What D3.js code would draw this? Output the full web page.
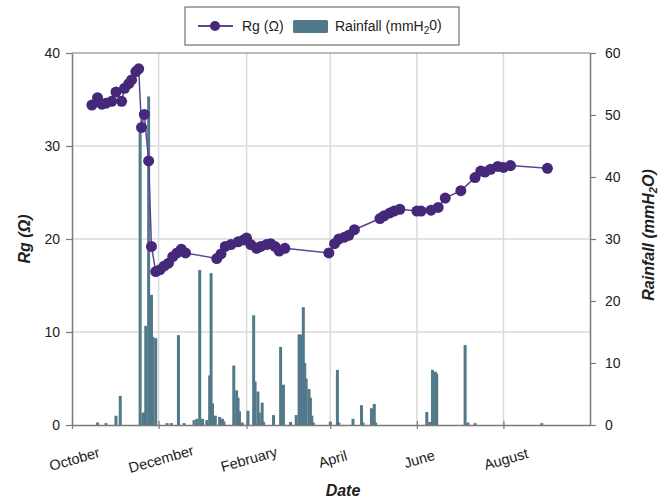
<!DOCTYPE html>
<html>
<head>
<meta charset="utf-8">
<script src="https://cdn.jsdelivr.net/npm/d3@7"></script>
<style>
  body { margin: 0; background: #fff; }
  text { font-family: "Liberation Sans", Arial, sans-serif; fill: #222; }
</style>
</head>
<body>
<div id="chart"></div>
<script>
// DATA -------------------------------------------------------------------
const rgDates = [
  "2016-10-15","2016-10-19","2016-10-22","2016-10-25","2016-10-29","2016-11-01","2016-11-05",
  "2016-11-07","2016-11-10","2016-11-12","2016-11-15","2016-11-17","2016-11-19","2016-11-21",
  "2016-11-24","2016-11-26","2016-11-29","2016-12-02","2016-12-05","2016-12-08","2016-12-11",
  "2016-12-14","2016-12-17","2016-12-20","2017-01-11","2017-01-14","2017-01-17","2017-01-21",
  "2017-01-26","2017-01-30","2017-02-01","2017-02-04","2017-02-08","2017-02-11","2017-02-15",
  "2017-02-18","2017-02-21","2017-02-24","2017-02-28","2017-03-31","2017-04-04","2017-04-07",
  "2017-04-11","2017-04-14","2017-04-18","2017-05-06","2017-05-09","2017-05-13","2017-05-16",
  "2017-05-20","2017-06-01","2017-06-04","2017-06-11","2017-06-16","2017-06-21","2017-07-02",
  "2017-07-12","2017-07-16","2017-07-19","2017-07-23","2017-07-28","2017-08-01","2017-08-06",
  "2017-09-01"
];
const rgValues = [
  34.4, 35.2, 34.5, 34.6, 34.8, 35.8, 34.8,
  36.2, 36.7, 37.1, 38.0, 38.3, 32.0, 33.4,
  28.4, 19.2, 16.5, 16.7, 17.1, 17.4, 18.1,
  18.5, 18.9, 18.5, 17.9, 18.4, 19.2, 19.4,
  19.7, 19.9, 20.1, 19.4, 19.0, 19.2, 19.4,
  19.5, 19.2, 18.7, 19.0, 18.5, 19.5, 20.0,
  20.2, 20.4, 21.0, 22.2, 22.5, 22.8, 23.0,
  23.2, 23.0, 23.0, 23.1, 23.4, 24.4, 25.2,
  26.6, 27.3, 27.2, 27.5, 27.8, 27.7, 27.9,
  27.6
];

const rainDates = [
  "2016-10-19","2016-10-25","2016-11-01","2016-11-04","2016-11-18","2016-11-20","2016-11-21",
  "2016-11-22","2016-11-24","2016-11-26","2016-11-27","2016-11-29","2016-12-07","2016-12-10",
  "2016-12-15","2016-12-19","2016-12-26","2016-12-28","2016-12-30","2017-01-01","2017-01-04",
  "2017-01-06","2017-01-07","2017-01-08","2017-01-10","2017-01-13","2017-01-15","2017-01-16",
  "2017-01-23","2017-01-25","2017-01-26","2017-01-27","2017-01-29","2017-02-02","2017-02-06",
  "2017-02-07","2017-02-09","2017-02-10","2017-02-12","2017-02-13","2017-02-20","2017-02-25",
  "2017-02-27","2017-03-04","2017-03-08","2017-03-10","2017-03-11","2017-03-13","2017-03-14",
  "2017-03-15","2017-03-17","2017-03-18","2017-03-19","2017-03-20","2017-04-01","2017-04-06",
  "2017-04-07","2017-04-17","2017-04-23","2017-04-24","2017-04-30","2017-05-02","2017-05-03",
  "2017-06-08","2017-06-10","2017-06-12","2017-06-14","2017-06-15","2017-07-05","2017-07-07",
  "2017-07-12","2017-08-28"
];
const rainValues = [
  0.4, 0.3, 1.5, 4.7, 48, 2.0, 2.0,
  16, 53, 21, 14.2, 14, 0.3, 0.3,
  14.5, 0.3, 0.8, 1.0, 25, 1.0, 0.8,
  8, 24.5, 3.5, 1.5, 1.3, 1.0, 0.6,
  9.6, 5.6, 4.4, 2.2, 0.4, 2.3, 17.7,
  7, 5.4, 2.0, 3.6, 0.5, 1.6, 12.6,
  6.5, 0.5, 1.6, 14.6, 14.6, 19, 10,
  7.5, 5.8, 4.4, 1.5, 0.4, 0.5, 8.9,
  0.4, 1.0, 3.2, 0.4, 2.7, 3.4, 0.4,
  2.1, 0.5, 8.9, 8.6, 8.3, 12.9, 0.4,
  0.3, 0.3
];

const dateRange = ["2016-10-01", "2017-10-01"];
const rgTicks = [0, 10, 20, 30, 40];
const rainTicks = [0, 10, 20, 30, 40, 50, 60];

// SETTINGS ---------------------------------------------------------------
const width = 667, height = 502;
const margins = { top: 53, right: 77, bottom: 77, left: 72 };
const innerWidth = width - margins.left - margins.right;
const innerHeight = height - margins.top - margins.bottom;

const rgColor = "#45287a";
const rgLine = "#5e4494";
const rainColor = "#52798a";
const gridColor = "#dadada";
const axisColor = "#7a7a7a";

const parse = d3.timeParse("%Y-%m-%d");

const rgData = rgDates.map((d, i) => ({ date: parse(d), value: rgValues[i] }));
const rainData = rainDates.map((d, i) => ({ date: parse(d), value: rainValues[i] }));

// SCALES -----------------------------------------------------------------
const x = d3.scaleTime()
  .domain(dateRange.map(parse))
  .range([0, innerWidth]);

const yRg = d3.scaleLinear()
  .domain([0, 40])
  .range([innerHeight, 0]);

const yRain = d3.scaleLinear()
  .domain([0, 60])
  .range([innerHeight, 0]);

// every second month, counted from October
const monthTicks = d3.timeMonth.range(parse(dateRange[0]), parse(dateRange[1]), 2);

// SVG --------------------------------------------------------------------
const svg = d3.select("#chart")
  .append("svg")
  .attr("width", width)
  .attr("height", height);

const g = svg.append("g")
  .attr("transform", `translate(${margins.left}, ${margins.top})`);

// grid
g.append("g")
  .selectAll("line")
  .data(rgTicks.slice(1, -1))
  .join("line")
    .attr("x1", 0).attr("x2", innerWidth)
    .attr("y1", d => yRg(d)).attr("y2", d => yRg(d))
    .style("stroke", gridColor)
    .style("stroke-width", 1.5);

g.append("g")
  .selectAll("line")
  .data(monthTicks.slice(1))
  .join("line")
    .attr("x1", d => x(d)).attr("x2", d => x(d))
    .attr("y1", 0).attr("y2", innerHeight)
    .style("stroke", gridColor)
    .style("stroke-width", 1.5);

// frame top
g.append("line")
  .attr("x1", 0).attr("x2", innerWidth)
  .attr("y1", 0).attr("y2", 0)
  .style("stroke", axisColor)
  .style("stroke-width", 1.2);

// rainfall bars
const barWidth = 3;
g.append("g")
  .selectAll("rect")
  .data(rainData)
  .join("rect")
    .attr("x", d => x(d.date) - barWidth / 2)
    .attr("y", d => yRain(d.value))
    .attr("width", barWidth)
    .attr("height", d => innerHeight - yRain(d.value))
    .style("fill", rainColor);

// Rg line + points
const line = d3.line()
  .x(d => x(d.date))
  .y(d => yRg(d.value));

g.append("path")
  .datum(rgData)
  .attr("d", line)
  .style("fill", "none")
  .style("stroke", rgLine)
  .style("stroke-width", 1.5);

g.append("g")
  .selectAll("circle")
  .data(rgData)
  .join("circle")
    .attr("cx", d => x(d.date))
    .attr("cy", d => yRg(d.value))
    .attr("r", 5.5)
    .style("fill", rgColor);

// AXES -------------------------------------------------------------------
function styleAxis(sel) {
  sel.attr("font-size", null).attr("font-family", null).attr("fill", null);
  sel.select(".domain").style("stroke", axisColor).style("stroke-width", 1.5);
  sel.selectAll(".tick line").style("stroke", axisColor).style("stroke-width", 1.2);
  sel.selectAll(".tick text")
    .attr("fill", null)
    .attr("font-size", 14)
    .attr("font-family", "Liberation Sans, Arial, sans-serif");
}

g.append("g")
  .call(d3.axisLeft(yRg).tickValues(rgTicks).tickSize(6).tickSizeOuter(0).tickPadding(6))
  .call(styleAxis);

g.append("g")
  .attr("transform", `translate(${innerWidth}, 0)`)
  .call(d3.axisRight(yRain).tickValues(rainTicks).tickSize(6).tickSizeOuter(0).tickPadding(9))
  .call(styleAxis);

const xAxis = g.append("g")
  .attr("transform", `translate(0, ${innerHeight})`)
  .call(d3.axisBottom(x).tickValues(monthTicks).tickFormat(d3.timeFormat("%B")).tickSize(0).tickSizeOuter(0))
  .call(styleAxis);

xAxis.selectAll(".tick line")
  .attr("y1", -4).attr("y2", 4);

xAxis.selectAll(".tick text")
  .attr("y", 0)
  .attr("dy", "0.35em")
  .attr("transform", "translate(2, 34) rotate(-16)")
  .attr("font-size", 14.5)
  .attr("text-anchor", "middle");

// TITLES -----------------------------------------------------------------
svg.append("text")
  .attr("transform", `translate(24, ${margins.top + innerHeight / 2}) rotate(-90)`)
  .attr("text-anchor", "middle")
  .attr("dy", "0.35em")
  .style("font-size", "16px")
  .style("font-weight", "bold")
  .style("font-style", "italic")
  .text("Rg (Ω)");

const rainTitle = svg.append("text")
  .attr("transform", `translate(648, ${margins.top + innerHeight / 2 - 4}) rotate(-90)`)
  .attr("text-anchor", "middle")
  .attr("dy", "0.35em")
  .style("font-size", "16px")
  .style("font-weight", "bold")
  .style("font-style", "italic");
rainTitle.append("tspan").text("Rainfall (mmH");
rainTitle.append("tspan").attr("dy", "0.3em").style("font-size", "11px").text("2");
rainTitle.append("tspan").attr("dy", "-0.2em").text("O)");

svg.append("text")
  .attr("x", margins.left + innerWidth / 2 + 12)
  .attr("y", 490)
  .attr("text-anchor", "middle")
  .attr("dy", "0.35em")
  .style("font-size", "16px")
  .style("font-weight", "bold")
  .style("font-style", "italic")
  .text("Date");

// LEGEND -----------------------------------------------------------------
const legend = svg.append("g").attr("transform", "translate(185, 7)");

legend.append("rect")
  .attr("width", 274).attr("height", 38)
  .style("fill", "#fff")
  .style("stroke", "#555")
  .style("stroke-width", 1);

legend.append("line")
  .attr("x1", 13).attr("x2", 48)
  .attr("y1", 19).attr("y2", 19)
  .style("stroke", rgLine)
  .style("stroke-width", 1.8);

legend.append("circle")
  .attr("cx", 30).attr("cy", 19).attr("r", 5)
  .style("fill", rgColor);

legend.append("text")
  .attr("x", 57).attr("y", 19).attr("dy", "0.35em")
  .style("font-size", "14px")
  .text("Rg (Ω)");

legend.append("rect")
  .attr("x", 108).attr("y", 13)
  .attr("width", 35).attr("height", 13)
  .attr("rx", 1.5)
  .style("fill", rainColor);

const legText = legend.append("text")
  .attr("x", 150).attr("y", 19).attr("dy", "0.35em")
  .style("font-size", "14px");
legText.append("tspan").text("Rainfall (mmH");
legText.append("tspan").attr("dy", "0.3em").style("font-size", "10px").text("2");
legText.append("tspan").attr("dy", "-0.3em").text("0)");
</script>
</body>
</html>
